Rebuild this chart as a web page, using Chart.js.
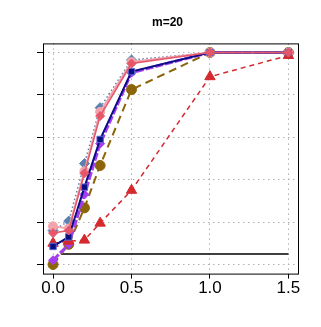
<!DOCTYPE html>
<html>
<head>
<meta charset="utf-8">
<script src="https://cdn.jsdelivr.net/npm/chart.js@4/dist/chart.umd.min.js"></script>
<style>
  html, body { margin: 0; padding: 0; background: #fff; }
</style>
</head>
<body>
<canvas id="chart" width="321" height="327"></canvas>
<script>
// Shift values on the x axis
const xValues = [0, 0.1, 0.2, 0.3, 0.5, 1.0, 1.5];
const xTicks = [0, 0.5, 1.0, 1.5];
const yTicks = [0, 0.2, 0.4, 0.6, 0.8, 1.0];

// Power curves
const redTriangle = [0.10, 0.11, 0.115, 0.195, 0.35, 0.886, 0.986];
const brownCircle = [0.0, 0.095, 0.267, 0.467, 0.825, 1.0, 1.0];
const navySquare = [0.085, 0.13, 0.365, 0.59, 0.91, 1.0, 1.0];
const purpleDiamond = [0.02, 0.095, 0.33, 0.57, 0.905, 1.0, 1.0];
const pinkDiamond = [0.148, 0.16, 0.43, 0.70, 0.948, 1.0, 1.0];
const lightPink = [0.18, 0.17, 0.44, 0.72, 0.955, 1.0, 1.0];
const steelDiamond = [0.16, 0.205, 0.476, 0.74, 0.965, 1.0, 1.0];

// Nominal level line
const alphaX = [0.05, 1.5];
const alphaY = [0.05, 0.05];

function pts(ys, xs = xValues) {
    return ys.map((y, i) => ({ x: xs[i], y: y }));
}

function series(data, color, opts) {
    return Object.assign({
        data: pts(data),
        borderColor: color,
        backgroundColor: color,
        pointBackgroundColor: color,
        pointBorderColor: color,
        borderWidth: 1.5,
        pointRadius: 4,
        pointBorderWidth: 1,
        fill: false,
        tension: 0
    }, opts);
}

// Draw a black frame round the plot area
const framePlugin = {
    id: 'frame',
    afterDraw(chart) {
        const a = chart.chartArea;
        const ctx = chart.ctx;
        ctx.save();
        ctx.strokeStyle = '#000';
        ctx.lineWidth = 1;
        ctx.strokeRect(a.left + 0.5, a.top + 0.5, a.right - a.left, a.bottom - a.top);
        ctx.restore();
    }
};

const datasets = [
    series(pinkDiamond, '#e5566a', { pointStyle: 'rectRot', pointRadius: 4.5, borderWidth: 1.5 }),
    series(navySquare, '#0c0c85', { pointStyle: 'rect', pointRadius: 4.5, pointBorderColor: '#5a6ad0', borderWidth: 2 }),
    series(redTriangle, '#d42a2f', { pointStyle: 'triangle', pointRadius: 6, borderDash: [5, 4] }),
    series(lightPink, '#f3a3ab', { pointStyle: 'circle', pointRadius: 4.5, borderWidth: 2 }),
    series(steelDiamond, '#5a82b0', { pointStyle: 'rectRot', pointRadius: 5, borderDash: [1.5, 2.5] }),
    series(purpleDiamond, '#a43cf0', { pointStyle: 'rectRot', pointRadius: 4.5, borderWidth: 3, borderDash: [8, 2] }),
    series(brownCircle, '#8b6508', { pointStyle: 'circle', pointRadius: 5, borderWidth: 2, borderDash: [8, 5] }),
    {
        data: pts(alphaY, alphaX),
        borderColor: '#000',
        borderWidth: 1.5,
        pointRadius: 0,
        fill: false
    }
];

const ctx = document.getElementById('chart').getContext('2d');
new Chart(ctx, {
    type: 'line',
    data: { datasets: datasets },
    options: {
        responsive: false,
        animation: false,
        devicePixelRatio: 1,
        layout: { padding: { left: 37, right: 23, top: 0, bottom: 28 } },
        plugins: {
            legend: { display: false },
            tooltip: { enabled: false },
            title: {
                display: true,
                text: 'm=20',
                color: '#000',
                font: { family: '"Liberation Sans", Arial, sans-serif', size: 12, weight: 'bold' },
                padding: { top: 15, bottom: 14 }
            }
        },
        scales: {
            x: {
                type: 'linear',
                min: -0.064,
                max: 1.561,
                afterBuildTicks: axis => { axis.ticks = xTicks.map(v => ({ value: v })); },
                ticks: {
                    color: '#000',
                    padding: 0,
                    maxRotation: 0,
                    font: { family: '"Liberation Sans", Arial, sans-serif', size: 17 },
                    callback: v => v.toFixed(1)
                },
                grid: { color: '#b0b0b0', tickColor: '#000', tickLength: 5, drawTicks: true },
                border: { display: false, dash: [1.5, 3.5] }
            },
            y: {
                type: 'linear',
                min: -0.043,
                max: 1.043,
                afterBuildTicks: axis => { axis.ticks = yTicks.map(v => ({ value: v })); },
                ticks: { display: false },
                grid: { color: '#b0b0b0', tickColor: '#000', tickLength: 6, drawTicks: true },
                border: { display: false, dash: [1.5, 3.5] }
            }
        }
    },
    plugins: [framePlugin]
});
</script>
</body>
</html>
